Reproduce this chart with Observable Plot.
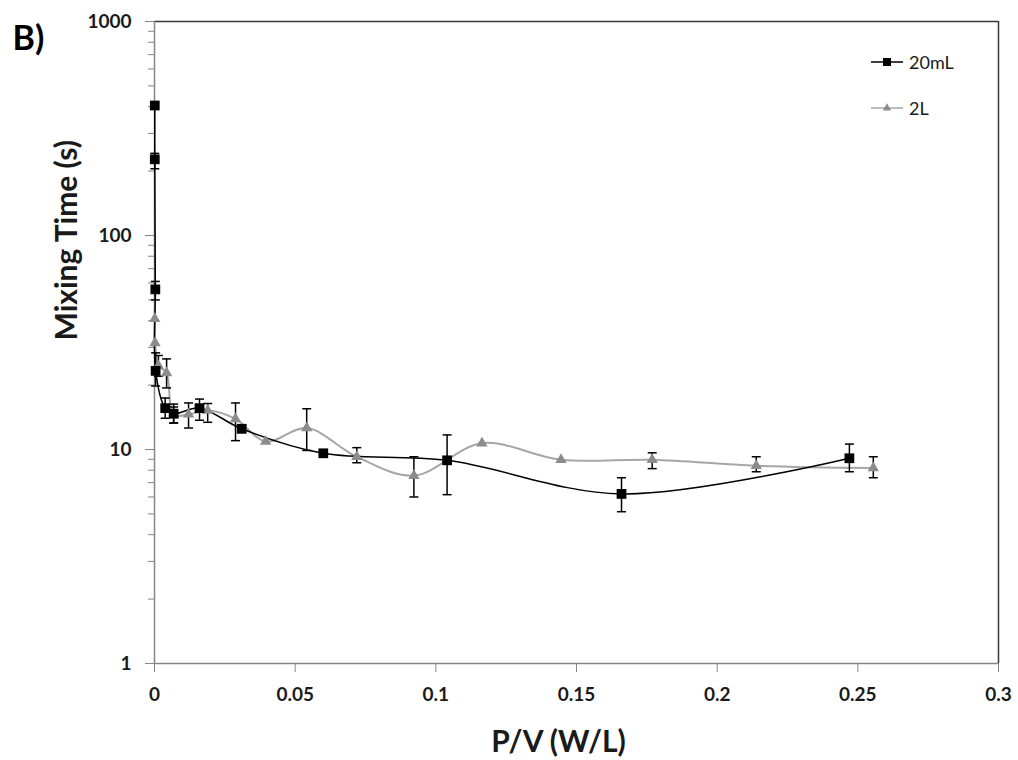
<!DOCTYPE html>
<html>
<head>
<meta charset="utf-8">
<script src="https://cdn.jsdelivr.net/npm/d3@7"></script>
<script src="https://cdn.jsdelivr.net/npm/@observablehq/plot@0.6"></script>
<style>
  html, body { margin: 0; padding: 0; background: #fff; }
  #wrap { position: relative; width: 1018px; height: 760px; font-family: Lato, "Open Sans", sans-serif; }
  #legend { position: absolute; left: 860px; top: 40px; }
</style>
</head>
<body>
<div id="wrap"></div>
<script>
// ---- data: 20mL (black squares)
const pv20   = [0.0001, 0.0001, 0.0003, 0.0004, 0.0038, 0.0068, 0.016, 0.031, 0.060, 0.104, 0.166, 0.247];
const time20 = [405, 227, 56, 23.3, 15.6, 14.7, 15.6, 12.5, 9.6, 8.9, 6.2, 9.1];
const lo20   = [null, 205, 50, 19.8, 14.0, 13.3, 13.7, 12.0, null, 6.15, 5.12, 7.87];
const hi20   = [null, 242, 61, 28.3, 17.4, 16.3, 17.2, 13.0, null, 11.7, 7.38, 10.6];

// ---- data: 2L (grey triangles)
const pv2   = [0.0001, 0.0002, 0.0014, 0.0043, 0.0068, 0.0121, 0.0189, 0.0288, 0.0395, 0.0541, 0.0719, 0.0922, 0.1164, 0.1445, 0.1769, 0.2139, 0.2555];
const time2 = [40.8, 31.5, 24.6, 22.8, 14.5, 14.6, 15.2, 13.9, 10.9, 12.6, 9.25, 7.55, 10.7, 8.95, 8.95, 8.4, 8.2];
const lo2   = [null, null, 22.0, 19.4, 13.3, 12.6, 13.4, 11.0, null, 9.9, 8.67, 6.0, null, null, 8.14, 7.87, 7.38];
const hi2   = [null, null, 27.5, 26.5, 15.8, 16.5, 16.4, 16.5, null, 15.5, 10.2, 9.25, null, null, 9.65, 9.25, 9.25];

// ---- axes
const xTicks = [0, 0.05, 0.1, 0.15, 0.2, 0.25, 0.3];
const yTicks = [1, 10, 100, 1000];
const yMinor = [2,3,4,5,6,7,8,9,20,30,40,50,60,70,80,90,200,300,400,500,600,700,800,900];

const s20 = pv20.map((x, i) => ({x, y: time20[i], lo: lo20[i], hi: hi20[i]}));
const s2  = pv2.map((x, i) => ({x, y: time2[i], lo: lo2[i], hi: hi2[i]}));
const errs = [...s20, ...s2].filter(d => d.lo != null);
const caps = errs.flatMap(d => [{x: d.x, y: d.lo}, {x: d.x, y: d.hi}]);

const capSymbol = { draw(ctx, size) { const r = Math.sqrt(size / Math.PI); ctx.moveTo(-r, 0); ctx.lineTo(r, 0); } };

const FONT = 'Lato, "Open Sans", sans-serif';
const AX = "#868686";
const TXT = "#1a1a1a";

const chart = Plot.plot({
  width: 1018,
  height: 760,
  marginLeft: 154,
  marginRight: 20,
  marginTop: 21,
  marginBottom: 97,
  style: { fontFamily: FONT, background: "#fff", overflow: "visible" },
  x: { domain: [0, 0.3], axis: null },
  y: { type: "log", domain: [1, 1000], axis: null },
  marks: [
    // frame
    Plot.ruleY([1000], { stroke: "#3a3a3a", strokeWidth: 1.5 }),
    Plot.ruleX([0.3], { stroke: "#3a3a3a", strokeWidth: 1.5 }),
    // ticks
    Plot.axisX({ ticks: xTicks, tickSize: 9, tickFormat: () => "", stroke: AX, label: null }),
    Plot.axisY({ ticks: yTicks, tickSize: 9, tickFormat: () => "", stroke: AX, label: null }),
    Plot.axisY({ ticks: yMinor, tickSize: 6, tickFormat: () => "", stroke: AX, label: null }),
    // tick labels
    Plot.axisX({ ticks: xTicks, tickSize: 0, tickPadding: 24, tickFormat: d => String(d), fontSize: 19, fontWeight: "bold", fill: TXT, label: null }),
    Plot.axisY({ ticks: yTicks, tickSize: 0, tickPadding: 23, tickFormat: d => String(d), fontSize: 19, fontWeight: "bold", fill: TXT, label: null }),
    // axis lines
    Plot.ruleX([0], { stroke: AX, strokeWidth: 1.5 }),
    Plot.ruleY([1], { stroke: AX, strokeWidth: 1.5 }),
    // series lines
    Plot.line(s2, { x: "x", y: "y", curve: "catmull-rom", stroke: "#a6a6a6", strokeWidth: 2 }),
    Plot.line(s20, { x: "x", y: "y", curve: "catmull-rom", stroke: "#000", strokeWidth: 1.5 }),
    // error bars
    Plot.ruleX(errs, { x: "x", y1: "lo", y2: "hi", stroke: "#000", strokeWidth: 1.5 }),
    Plot.dot(caps, { x: "x", y: "y", symbol: capSymbol, r: 4.5, stroke: "#000", strokeWidth: 1.5, fill: "none" }),
    // markers
    Plot.dot(s2, { x: "x", y: "y", symbol: "triangle", r: 4.2, fill: "#8c8c8c", stroke: "none" }),
    Plot.dot(s20, { x: "x", y: "y", symbol: "square", r: 5.5, fill: "#000", stroke: "none" }),
    // titles
    Plot.text(["P/V (W/L)"], { frameAnchor: "bottom", lineAnchor: "top", dx: -18, dy: 67, fontSize: 30, fontWeight: "bold", fill: TXT }),
    Plot.text(["Mixing Time (s)"], { frameAnchor: "left", rotate: -90, dx: -87, dy: -2, fontSize: 30, fontWeight: "bold", fill: TXT }),
    Plot.text(["B)"], { frameAnchor: "top-left", textAnchor: "start", lineAnchor: "top", dx: -142, dy: 4, fontSize: 34, fontWeight: "bold", fill: "#000" })
  ]
});

const wrap = document.getElementById("wrap");
wrap.appendChild(chart);

// legend
const seriesNames = ["20mL", "2L"];
const leg = d3.select(wrap).append("svg").attr("id", "legend").attr("width", 140).attr("height", 90);
const rows = [
  { name: seriesNames[0], line: "#000", fill: "#000", sym: d3.symbolSquare, size: 64, cy: 22 },
  { name: seriesNames[1], line: "#a6a6a6", fill: "#8c8c8c", sym: d3.symbolTriangle, size: 30, cy: 68 }
];
for (const r of rows) {
  const g = leg.append("g").attr("transform", `translate(0,${r.cy})`);
  g.append("line").attr("x1", 11).attr("x2", 43).attr("stroke", r.line).attr("stroke-width", 1.5);
  g.append("path").attr("d", d3.symbol(r.sym, r.size)()).attr("transform", "translate(27,0)").attr("fill", r.fill);
  g.append("text").attr("x", 49).attr("y", 6.5).attr("font-size", 18).attr("font-family", FONT).attr("fill", TXT).text(r.name);
}
</script>
</body>
</html>
